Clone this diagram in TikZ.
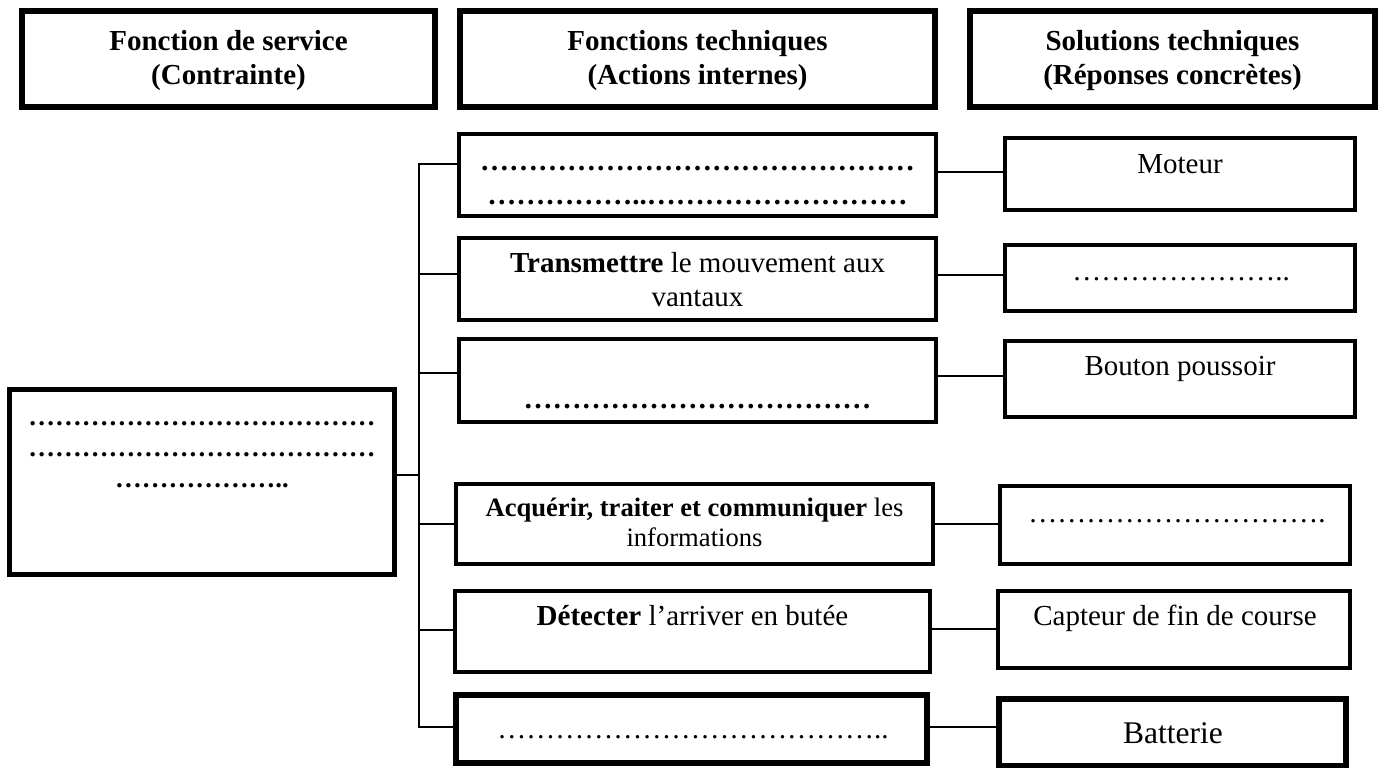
\documentclass[tikz,border=0pt]{standalone}
\usepackage{fontspec}
\setmainfont{Liberation Serif}
\usetikzlibrary{fit}
\newcount\myellcount
\newcommand\ellrep[1]{\myellcount=#1\relax\loop\ifnum\myellcount>0 …\advance\myellcount by -1 \repeat}
\begin{document}
\begin{tikzpicture}[x=0.5pt,y=-0.5pt,
  hbox/.style={draw,line width=3pt,inner sep=0pt},
  lbox/.style={draw,line width=2.5pt,inner sep=0pt},
  fbox/.style={draw,line width=2pt,inner sep=0pt},
  kbox/.style={draw,line width=2.8pt,inner sep=0pt},
  conn/.style={line width=0.85pt},
  txt/.style={anchor=base,inner sep=0pt,font=\fontsize{14.5pt}{17pt}\selectfont},
  htxt/.style={anchor=base,inner sep=0pt,font=\fontsize{14.5pt}{17pt}\selectfont\bfseries},
  stxt/.style={anchor=base,inner sep=0pt,font=\fontsize{13.3pt}{16pt}\selectfont},
  ltxt/.style={anchor=base,inner sep=0pt,font=\fontsize{13.35pt}{16pt}\selectfont\bfseries},
  btxt/.style={anchor=base,inner sep=0pt,font=\fontsize{15.75pt}{18pt}\selectfont}
]
\useasboundingbox (0,0) rectangle (1389,767);
\fill[white] (0,0) rectangle (1389,767);

% header boxes
\node[hbox,fit={(22,11) (435,107)}] (H1) {};
\node[hbox,fit={(460,11) (935,107)}] (H2) {};
\node[hbox,fit={(970,11) (1375,107)}] (H3) {};
\node[htxt] (h1a) at (228.5,50) {Fonction de service};
\node[htxt] (h1b) at (228.5,84) {(Contrainte)};
\node[htxt] (h2a) at (697.5,50) {Fonctions techniques};
\node[htxt] (h2b) at (697.5,84) {(Actions internes)};
\node[htxt] (h3a) at (1172.5,50) {Solutions techniques};
\node[htxt] (h3b) at (1172.5,84) {(Réponses concrètes)};

% left box
\node[lbox,fit={(9.5,389.5) (394.5,574.5)}] (L) {};
\node[ltxt] (l1) at (202,425) {\ellrep{13}};
\node[ltxt] (l2) at (202,456) {\ellrep{13}};
\node[ltxt] (l3) at (202,487) {\ellrep{6}..};

% middle boxes
\node[fbox,fit={(459,134) (936,216)}] (m1) {};
\node[fbox,fit={(459,238) (936,320)}] (m2) {};
\node[fbox,fit={(459,339) (936,422)}] (m3) {};
\node[fbox,fit={(456,484) (933,564)}] (m4) {};
\node[fbox,fit={(455,591) (930,672)}] (m5) {};
\node[kbox,fit={(456,695) (927,763)}] (m6) {};

\node[htxt] (m1a) at (697.5,170) {\ellrep{15}};
\node[htxt] (m1b) at (697.5,204) {\ellrep{5}..\ellrep{9}};
\node[txt] (m2a) at (697.5,272) {\textbf{Transmettre} le mouvement aux};
\node[txt] (m2b) at (697.5,306) {vantaux};
\node[htxt] (m3a) at (697.5,408) {\ellrep{12}};
\node[stxt] (m4a) at (694.5,516) {\textbf{Acquérir, traiter et communiquer} les};
\node[stxt] (m4b) at (694.5,546) {informations};
\node[txt] (m5a) at (692.5,625) {\textbf{Détecter} l’arriver en butée};
\node[txt] (m6a) at (693,738) {\ellrep{13}..};

% right boxes
\node[fbox,fit={(1005,138) (1355,210)}] (r1) {};
\node[fbox,line width=2.4pt,fit={(1005,245) (1355,311)}] (r2) {};
\node[fbox,fit={(1005,341) (1355,417)}] (r3) {};
\node[fbox,fit={(1000,486) (1350,564)}] (r4) {};
\node[fbox,fit={(998,591) (1350,668)}] (r5) {};
\node[kbox,fit={(999,699) (1346,766)}] (r6) {};

\node[txt] (r1a) at (1180,173) {Moteur};
\node[txt] (r2a) at (1181,280) {\ellrep{7}..};
\node[txt] (r3a) at (1180,375) {Bouton poussoir};
\node[txt] (r4a) at (1177,522) {\ellrep{10}.};
\node[txt] (r5a) at (1175,625) {Capteur de fin de course};
\node[btxt] (r6a) at (1173,743) {Batterie};

% bus and branches
\coordinate (b1) at (419,164);
\coordinate (b2) at (419,274);
\coordinate (b3) at (419,373);
\coordinate (b4) at (419,524);
\coordinate (b5) at (419,630);
\coordinate (b6) at (419,727);
\coordinate (bL) at (419,475);
\draw[conn] (b1 -| m1.west) -- (b1) -- (b6) -- (b6 -| m6.west);
\draw[conn] (b2) -- (b2 -| m2.west);
\draw[conn] (b3) -- (b3 -| m3.west);
\draw[conn] (b4) -- (b4 -| m4.west);
\draw[conn] (b5) -- (b5 -| m5.west);
\draw[conn] (L.east |- bL) -- (bL);

% middle to right connectors
\coordinate (c1) at (970,172);
\coordinate (c2) at (970,275);
\coordinate (c3) at (970,376);
\coordinate (c4) at (970,524);
\coordinate (c5) at (970,629);
\coordinate (c6) at (970,727);
\draw[conn] (c1 -| m1.east) -- (c1 -| r1.west);
\draw[conn] (c2 -| m2.east) -- (c2 -| r2.west);
\draw[conn] (c3 -| m3.east) -- (c3 -| r3.west);
\draw[conn] (c4 -| m4.east) -- (c4 -| r4.west);
\draw[conn] (c5 -| m5.east) -- (c5 -| r5.west);
\draw[conn] (c6 -| m6.east) -- (c6 -| r6.west);
\end{tikzpicture}
\end{document}
